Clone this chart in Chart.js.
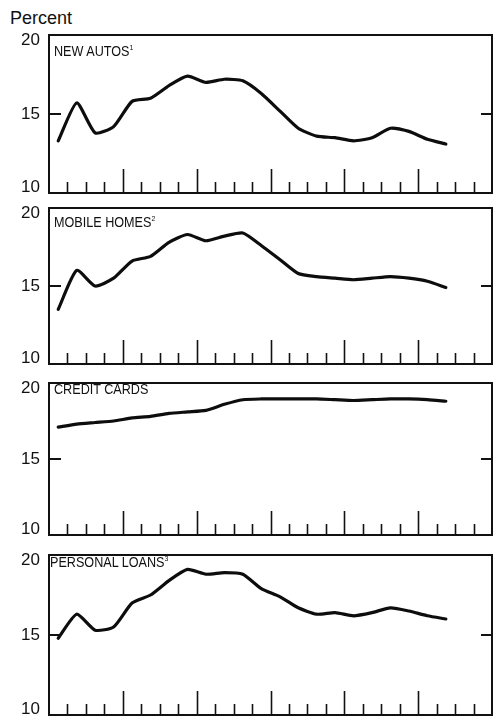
<!DOCTYPE html>
<html lang="en">
<head>
    <meta charset="UTF-8">
    <title>Consumer credit rates</title>
    <style>
        body {
            margin: 0;
            padding: 0;
            background-color: #fff;
            font-family: "Liberation Sans", Arial, sans-serif;
            color: #111;
        }

        #page {
            position: relative;
            width: 493px;
            height: 717px;
            overflow: hidden;
        }

        .panel {
            position: absolute;
            left: 0;
            width: 493px;
        }

        .unit {
            position: absolute;
            left: 10px;
            top: 9px;
            font-size: 18px;
            line-height: 18px;
        }

        .name {
            position: absolute;
            font-family: "Liberation Sans", Arial, sans-serif;
            font-size: 14.5px;
            line-height: 15px;
            white-space: nowrap;
            transform: scaleX(0.87);
            transform-origin: left top;
        }

        .name sup {
            font-size: 8px;
            vertical-align: 6px;
            line-height: 0;
        }
    </style>
    <script src="https://cdn.jsdelivr.net/npm/chart.js"></script>
</head>
<body>
<div id="page">
    <div class="unit">Percent</div>
</div>

<script>
    // quarterly slots on the x axis (6 years), data sits mid-quarter
    const quarterCount = 24;
    const yTicks = [10, 15, 20];

    const panelNames = ['NEW AUTOS', 'MOBILE HOMES', 'CREDIT CARDS', 'PERSONAL LOANS'];
    const panelNotes = ['1', '2', '', '3'];

    const newAutos = [13.3, 15.7, 13.8, 14.2, 15.8, 16.0, 16.8, 17.4, 17.0, 17.2, 17.1,
                      16.3, 15.2, 14.1, 13.6, 13.5, 13.3, 13.5, 14.1, 13.9, 13.4, 13.1];
    const mobileHomes = [13.5, 16.0, 15.0, 15.5, 16.6, 16.9, 17.8, 18.3, 17.9, 18.2, 18.4,
                         17.6, 16.7, 15.8, 15.6, 15.5, 15.4, 15.5, 15.6, 15.5, 15.3, 14.9];
    const creditCards = [17.1, 17.3, 17.4, 17.5, 17.7, 17.8, 18.0, 18.1, 18.2, 18.6, 18.9,
                         18.95, 18.95, 18.95, 18.95, 18.9, 18.85, 18.9, 18.95, 18.95, 18.9, 18.8];
    const personalLoans = [14.8, 16.3, 15.3, 15.5, 17.0, 17.5, 18.4, 19.1, 18.8, 18.9, 18.8,
                           17.9, 17.4, 16.7, 16.3, 16.4, 16.2, 16.4, 16.7, 16.5, 16.2, 16.0];

    const series = [newAutos, mobileHomes, creditCards, personalLoans];

    // frame positions of each panel on the page
    const panelTop = [35, 208, 383, 555];
    const panelBottom = [193, 364, 535, 715];
    const titleTop = [44, 215, 382, 555];
    const titleLeft = [54, 54, 54, 50];
    const pad = 12;

    // frame, inside tick marks along the bottom and at mid-scale on both sides
    const frameTicks = {
        id: 'frameTicks',
        afterDatasetsDraw(chart) {
            const ctx = chart.ctx;
            const a = chart.chartArea;
            const x = chart.scales.x;
            const y = chart.scales.y;
            ctx.save();
            ctx.strokeStyle = '#111';
            ctx.lineCap = 'butt';

            ctx.lineWidth = 1.6;
            for (let q = 1; q < quarterCount; q++) {
                const px = Math.round(x.getPixelForValue(q)) + 0.5;
                const len = q % 4 === 0 ? 24 : 11;
                ctx.beginPath();
                ctx.moveTo(px, a.bottom);
                ctx.lineTo(px, a.bottom - len);
                ctx.stroke();
            }

            ctx.lineWidth = 2;
            yTicks.forEach(v => {
                if (v === y.min || v === y.max) return;
                const py = Math.round(y.getPixelForValue(v));
                ctx.beginPath();
                ctx.moveTo(a.left, py);
                ctx.lineTo(a.left + 12, py);
                ctx.moveTo(a.right, py);
                ctx.lineTo(a.right - 11, py);
                ctx.stroke();
            });

            ctx.lineWidth = 2;
            ctx.strokeRect(a.left, a.top, a.right - a.left, a.bottom - a.top);
            ctx.restore();
        }
    };

    const page = document.getElementById('page');

    series.forEach((values, i) => {
        const box = document.createElement('div');
        box.className = 'panel';
        box.style.top = (panelTop[i] - pad) + 'px';
        box.style.height = (panelBottom[i] - panelTop[i] + 2 * pad) + 'px';
        const canvas = document.createElement('canvas');
        box.appendChild(canvas);
        page.appendChild(box);

        const title = document.createElement('div');
        title.className = 'name';
        title.style.top = titleTop[i] + 'px';
        title.style.left = titleLeft[i] + 'px';
        title.innerHTML = panelNames[i] + (panelNotes[i] ? '<sup>' + panelNotes[i] + '</sup>' : '');
        page.appendChild(title);

        new Chart(canvas.getContext('2d'), {
            type: 'line',
            data: {
                datasets: [{
                    label: panelNames[i],
                    data: values.map((v, k) => ({ x: k + 0.5, y: v })),
                    borderColor: '#0d0d0d',
                    borderWidth: 3.2,
                    pointRadius: 0,
                    tension: 0.2,
                    borderJoinStyle: 'round',
                    borderCapStyle: 'round',
                    fill: false
                }]
            },
            options: {
                responsive: true,
                maintainAspectRatio: false,
                animation: false,
                layout: { padding: { top: pad, bottom: pad, left: 0, right: 1 } },
                plugins: {
                    legend: { display: false },
                    tooltip: { enabled: false }
                },
                scales: {
                    x: {
                        type: 'linear',
                        min: 0,
                        max: quarterCount,
                        display: false
                    },
                    y: {
                        min: 10,
                        max: 20,
                        afterBuildTicks: s => { s.ticks = yTicks.map(v => ({ value: v })); },
                        afterFit: s => {
                            s.width = 49;
                            s.paddingTop = 0;
                            s.paddingBottom = 0;
                        },
                        grid: { display: false, drawTicks: false },
                        border: { display: false },
                        ticks: {
                            padding: 9,
                            color: '#111',
                            font: { family: 'Liberation Sans', size: 17, lineHeight: 0.65 },
                            // end labels sit just inside the frame, as in the print
                            callback: v => v === 20 ? ['', String(v)] : v === 10 ? [String(v), ''] : String(v)
                        }
                    }
                }
            },
            plugins: [frameTicks]
        });
    });
</script>
</body>
</html>
